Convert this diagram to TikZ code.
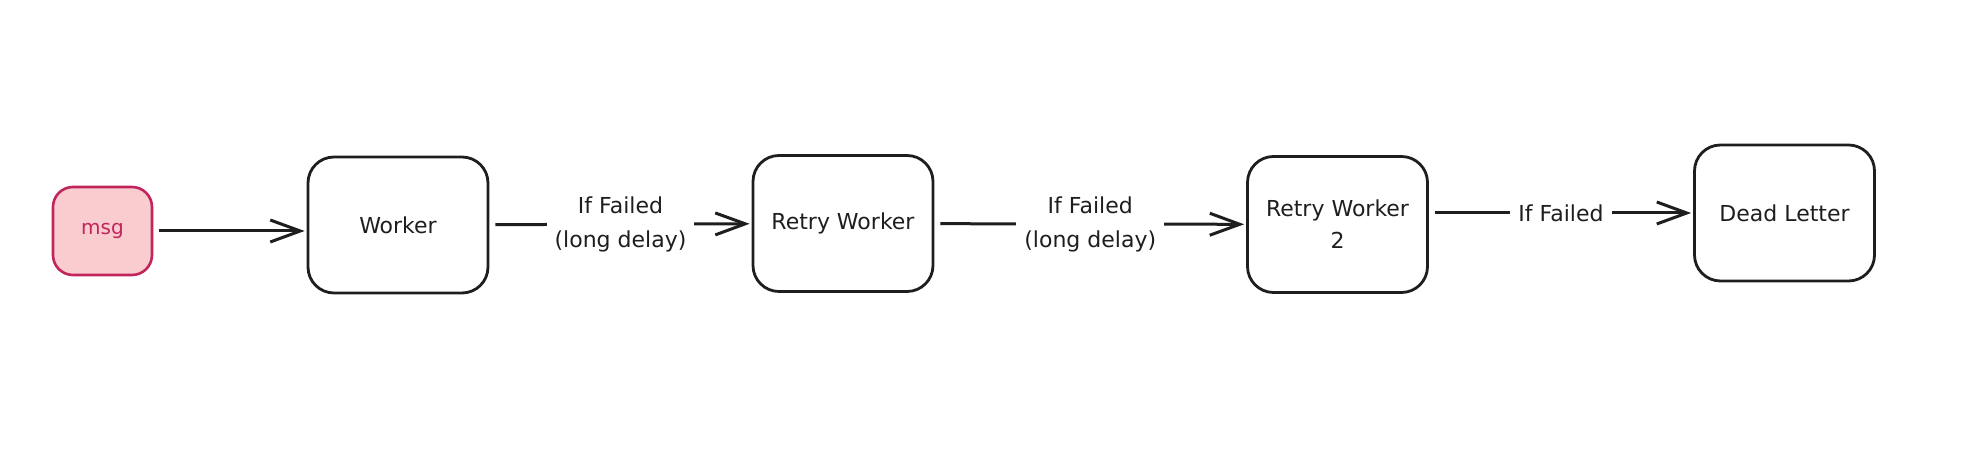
\documentclass[tikz,border=0pt]{standalone}
\usepackage{fontspec}
\setmainfont{DejaVu Sans}
\usetikzlibrary{arrows.meta,positioning}
\definecolor{msgred}{HTML}{C2255C}
\definecolor{msgfill}{HTML}{F9CCCF}
\definecolor{ink}{HTML}{1E1E1E}
\tikzset{
  box/.style={draw=ink, line width=1.4pt, rounded corners=13pt, minimum width=90pt, minimum height=68pt, align=center, text=ink, font=\fontsize{11}{16}\selectfont},
  msgbox/.style={draw=msgred, fill=msgfill, line width=1.3pt, rounded corners=10pt, minimum width=49.5pt, minimum height=44pt, text=msgred, font=\fontsize{10}{12}\selectfont},
  link/.style={draw=ink, line width=1.5pt, -{Straight Barb[length=15pt,width=11pt,line width=1.5pt]}, shorten >=1pt, shorten <=3pt},
  lbl/.style={fill=white, align=center, inner sep=4pt, text=ink, font=\fontsize{11}{17}\selectfont}
}
\begin{document}
\begin{tikzpicture}[x=0.5pt,y=-0.5pt]
\useasboundingbox (0,0) rectangle (1980,474);
\node[msgbox] (msg) at (102.5,231) {msg};
\node[box] (wrk) at (398,225) {Worker};
\node[box] (retry) at (843,223.5) {Retry Worker};
\node[box] (retry2) at (1337.5,224.5) {Retry Worker\\2};
\node[box] (dead) at (1784.5,213) {Dead Letter};
\draw[link] (msg.east) -- (msg.east -| wrk.west);
\draw[link] (wrk) -- node[lbl] {If Failed\\(long delay)} (retry);
\draw[link] (retry) -- node[lbl] {If Failed\\(long delay)} (retry2);
\draw[link] (retry2.east |- dead.west) -- node[lbl] {If Failed} (dead.west);
\end{tikzpicture}
\end{document}
